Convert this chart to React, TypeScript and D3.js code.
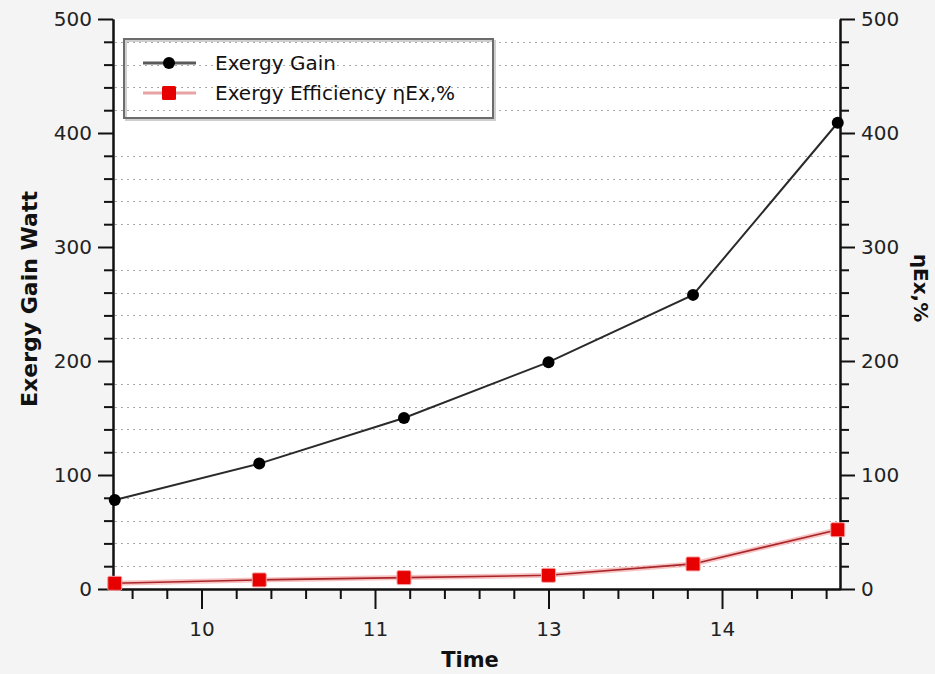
import { useRef, useEffect } from "react";
import * as d3 from "d3";

// time of day (hours) for each reading
const times = [9.5, 10.333, 11.167, 12.0, 12.833, 13.667];
const exergyGain = [78, 110, 150, 199, 258, 409];
const exergyEfficiency = [5, 8, 10, 12, 22, 52];

// x axis: major tick positions and the labels printed under them
const xMajorTicks = [10, 11, 12, 13];
const xTickLabels = ["10", "11", "13", "14"];
const yMajorTicks = [0, 100, 200, 300, 400, 500];

const W = 935;
const H = 674;
const FONT = "'DejaVu Sans', Verdana, sans-serif";

const App = () => {
  const svgRef = useRef<SVGSVGElement>(null);

  useEffect(() => {
    const svg = d3.select(svgRef.current);
    svg.selectAll("*").remove();

    const left = 113;
    const right = 840;
    const top = 19;
    const bottom = 589;

    const x = d3.scaleLinear().domain([9.49, 13.68]).range([left, right]);
    const y = d3.scaleLinear().domain([0, 500]).range([bottom, top]);

    const xMinor = d3
      .range(9.6, 13.69, 0.2)
      .filter((v) => !xMajorTicks.some((m) => Math.abs(m - v) < 1e-6));
    const yMinor = d3.range(20, 500, 20).filter((v) => v % 100 !== 0);

    // background
    svg.append("rect").attr("width", W).attr("height", H).attr("fill", "#f4f4f4");
    svg
      .append("rect")
      .attr("x", left)
      .attr("y", top)
      .attr("width", right - left)
      .attr("height", bottom - top)
      .attr("fill", "#ffffff");

    // dotted grid at the minor values only
    svg
      .append("g")
      .selectAll("line")
      .data(yMinor)
      .join("line")
      .attr("x1", left + 2)
      .attr("x2", right - 2)
      .attr("y1", (d) => Math.round(y(d)) + 0.5)
      .attr("y2", (d) => Math.round(y(d)) + 0.5)
      .attr("stroke", "#ababab")
      .attr("stroke-width", 1)
      .attr("stroke-dasharray", "2,4");

    const styleAxis = (g, size = 20) => {
      g.select(".domain").attr("stroke", "#111").attr("stroke-width", 2);
      g.selectAll(".tick line").attr("stroke", "#111").attr("stroke-width", 2);
      g.selectAll("text")
        .attr("font-family", FONT)
        .attr("font-size", size)
        .attr("fill", "#222");
    };

    // x axis
    svg
      .append("g")
      .attr("transform", `translate(0,${bottom})`)
      .call(d3.axisBottom(x).tickValues(xMinor).tickSize(10).tickFormat(() => "").tickSizeOuter(0))
      .call((g) => styleAxis(g));
    svg
      .append("g")
      .attr("transform", `translate(0,${bottom})`)
      .call(
        d3
          .axisBottom(x)
          .tickValues(xMajorTicks)
          .tickSize(20)
          .tickPadding(13)
          .tickSizeOuter(0)
          .tickFormat((d, i) => xTickLabels[i])
      )
      .call((g) => styleAxis(g));

    // left axis
    svg
      .append("g")
      .attr("transform", `translate(${left},0)`)
      .call(d3.axisLeft(y).tickValues(yMinor).tickSize(9).tickFormat(() => "").tickSizeOuter(0))
      .call((g) => styleAxis(g));
    svg
      .append("g")
      .attr("transform", `translate(${left},0)`)
      .call(d3.axisLeft(y).tickValues(yMajorTicks).tickSize(15).tickPadding(6).tickSizeOuter(0))
      .call((g) => styleAxis(g));

    // right axis
    svg
      .append("g")
      .attr("transform", `translate(${right},0)`)
      .call(d3.axisRight(y).tickValues(yMinor).tickSize(9).tickFormat(() => "").tickSizeOuter(0))
      .call((g) => styleAxis(g));
    svg
      .append("g")
      .attr("transform", `translate(${right},0)`)
      .call(d3.axisRight(y).tickValues(yMajorTicks).tickSize(15).tickPadding(6).tickSizeOuter(0))
      .call((g) => styleAxis(g));

    // axis titles
    svg
      .append("text")
      .attr("transform", `translate(37,299) rotate(-90)`)
      .attr("text-anchor", "middle")
      .attr("font-family", FONT)
      .attr("font-weight", "bold")
      .attr("font-size", 22)
      .attr("fill", "#111")
      .text("Exergy Gain Watt");
    svg
      .append("text")
      .attr("transform", `translate(914,288) rotate(90)`)
      .attr("text-anchor", "middle")
      .attr("font-family", FONT)
      .attr("font-weight", "bold")
      .attr("font-size", 20)
      .attr("fill", "#111")
      .text("ηEx,%");
    svg
      .append("text")
      .attr("x", 470)
      .attr("y", 667)
      .attr("text-anchor", "middle")
      .attr("font-family", FONT)
      .attr("font-weight", "bold")
      .attr("font-size", 21)
      .attr("fill", "#111")
      .text("Time");

    const gainData = times.map((t, i) => ({ t, v: exergyGain[i] }));
    const effData = times.map((t, i) => ({ t, v: exergyEfficiency[i] }));
    const line = d3
      .line<{ t: number; v: number }>()
      .x((d) => x(d.t))
      .y((d) => y(d.v));

    // efficiency series (red)
    svg
      .append("path")
      .datum(effData)
      .attr("d", line)
      .attr("fill", "none")
      .attr("stroke", "#f29a9a")
      .attr("stroke-width", 5)
      .attr("opacity", 0.6);
    svg
      .append("path")
      .datum(effData)
      .attr("d", line)
      .attr("fill", "none")
      .attr("stroke", "#a8262a")
      .attr("stroke-width", 1.6);
    svg
      .append("g")
      .selectAll("rect")
      .data(effData)
      .join("rect")
      .attr("x", (d) => x(d.t) - 7)
      .attr("y", (d) => y(d.v) - 7)
      .attr("width", 14)
      .attr("height", 14)
      .attr("rx", 1.5)
      .attr("fill", "#e60000")
      .attr("stroke", "#f5a0a0")
      .attr("stroke-width", 1);

    // exergy gain series (black)
    svg
      .append("path")
      .datum(gainData)
      .attr("d", line)
      .attr("fill", "none")
      .attr("stroke", "#2a2a2a")
      .attr("stroke-width", 2);
    svg
      .append("g")
      .selectAll("circle")
      .data(gainData)
      .join("circle")
      .attr("cx", (d) => x(d.t))
      .attr("cy", (d) => y(d.v))
      .attr("r", 6)
      .attr("fill", "#000");

    // legend (transparent, grid shows through)
    const lg = svg.append("g");
    lg.append("rect")
      .attr("x", 126)
      .attr("y", 41)
      .attr("width", 369)
      .attr("height", 79)
      .attr("fill", "none")
      .attr("stroke", "#cfcfcf")
      .attr("stroke-width", 2);
    lg.append("rect")
      .attr("x", 124)
      .attr("y", 39)
      .attr("width", 369)
      .attr("height", 79)
      .attr("fill", "none")
      .attr("stroke", "#6c6c6c")
      .attr("stroke-width", 2);

    const rows = [
      { label: "Exergy Gain", y: 63, kind: "circle" },
      { label: "Exergy Efficiency ηEx,%", y: 93, kind: "square" },
    ];
    rows.forEach((r) => {
      lg.append("line")
        .attr("x1", 143)
        .attr("x2", 196)
        .attr("y1", r.y)
        .attr("y2", r.y)
        .attr("stroke", r.kind === "circle" ? "#5a5a5a" : "#e8a4a4")
        .attr("stroke-width", 3);
      if (r.kind === "circle") {
        lg.append("circle").attr("cx", 169).attr("cy", r.y).attr("r", 6).attr("fill", "#000");
      } else {
        lg.append("rect")
          .attr("x", 162)
          .attr("y", r.y - 7)
          .attr("width", 14)
          .attr("height", 14)
          .attr("rx", 1.5)
          .attr("fill", "#e60000");
      }
      lg.append("text")
        .attr("x", 215)
        .attr("y", r.y)
        .attr("dy", "0.35em")
        .attr("font-family", FONT)
        .attr("font-size", 20)
        .attr("fill", "#111")
        .text(r.label);
    });
  }, []);

  return (
    <div style={{ position: "absolute", left: 0, top: 0 }}>
      <svg ref={svgRef} width={W} height={H} style={{ display: "block" }} />
    </div>
  );
};

export default App;
